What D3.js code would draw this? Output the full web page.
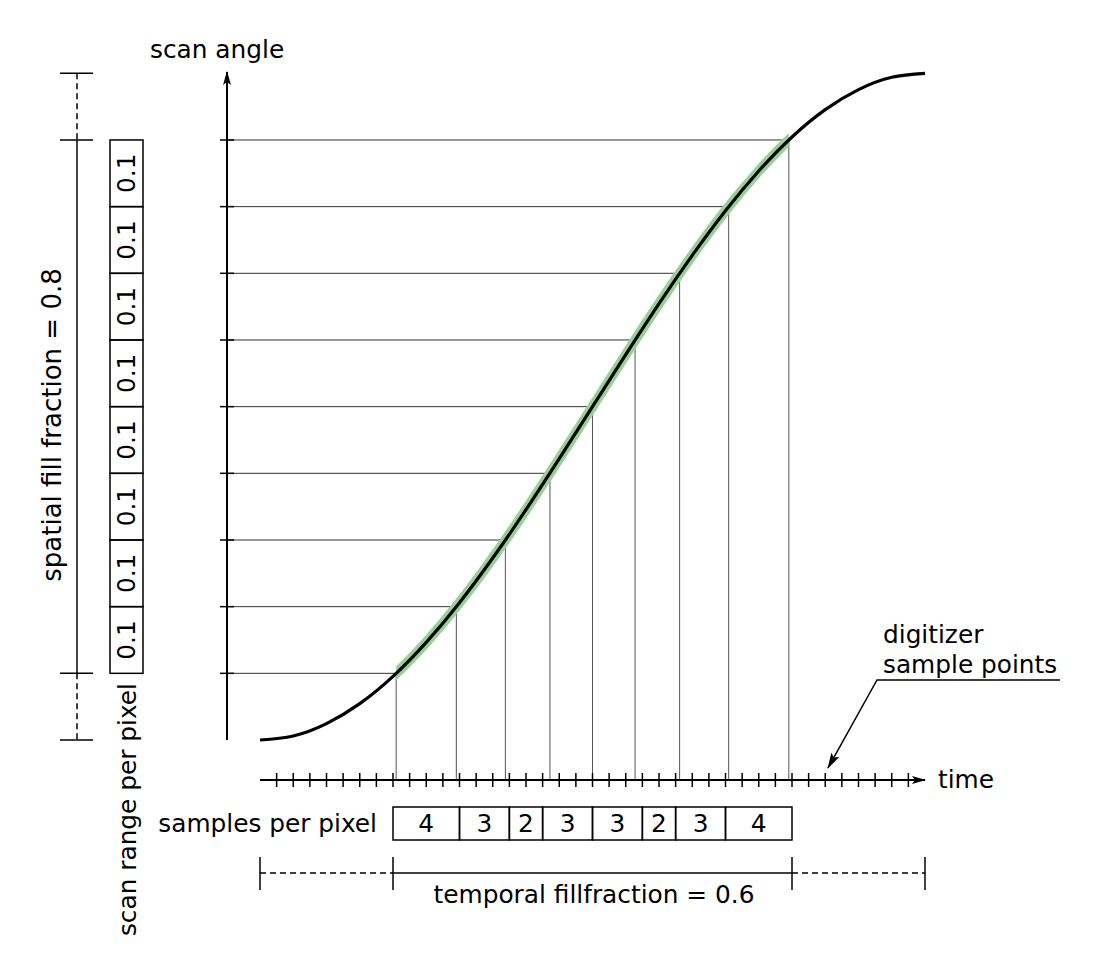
<!DOCTYPE html>
<html>
<head>
<meta charset="utf-8">
<script src="https://cdn.jsdelivr.net/npm/d3@7"></script>
<style>
  html, body { margin: 0; padding: 0; background: #fff; }
  text { font-family: "DejaVu Sans", Verdana, sans-serif; fill: #000; }
</style>
</head>
<body>
<svg id="chart" width="1096" height="966"></svg>
<script>
// ---- data ----
// scan curve: time in digitizer samples (0..40) vs normalised scan angle (-1..1)
const curveTimes  = [0, 2, 4, 6, 8, 10, 12, 14, 16, 18, 20, 22, 24, 26, 28, 30, 32, 34, 36, 38, 40];
const curveAngles = [-1, -0.988, -0.951, -0.891, -0.809, -0.707, -0.588, -0.454, -0.309, -0.156, 0,
                     0.156, 0.309, 0.454, 0.588, 0.707, 0.809, 0.891, 0.951, 0.988, 1];
// pixel boundaries on the scan-angle axis and the times at which the curve crosses them
const pixelLevels = [0.8, 0.6, 0.4, 0.2, 0, -0.2, -0.4, -0.6, -0.8];
const crossTimes  = [31.81, 28.19, 25.24, 22.56, 20, 17.44, 14.76, 11.81, 8.19];
// spatial pixel sizes (fraction of full scan range)
const pixelSizes = ["0.1", "0.1", "0.1", "0.1", "0.1", "0.1", "0.1", "0.1"];
// samples per pixel
const samplesPerPixel = [4, 3, 2, 3, 3, 2, 3, 4];
const sampleCount = 40;          // digitizer samples over one full line
const spatialFill = 0.8;
const temporalFill = 0.6;
const temporalStart = 8, temporalEnd = 32;   // sample indices of the temporal fill window

// ---- layout ----
const svg = d3.select("#chart");
const x = d3.scaleLinear().domain([0, sampleCount]).range([260, 925]);
const y = d3.scaleLinear().domain([-1, 1]).range([740, 73.3]);
const yAxisX = 227;
const timeY = 780;
const fontSize = 24.8;

const defs = svg.append("defs");
defs.append("marker").attr("id", "arrow").attr("viewBox", "0 0 14 10")
  .attr("refX", 13).attr("refY", 5).attr("markerWidth", 14).attr("markerHeight", 10)
  .attr("markerUnits", "userSpaceOnUse").attr("orient", "auto")
  .append("path").attr("d", "M0,1 L14,5 L0,9 L3,5 Z").attr("fill", "#000");
defs.append("marker").attr("id", "arrow2").attr("viewBox", "0 0 16 10")
  .attr("refX", 15).attr("refY", 5).attr("markerWidth", 16).attr("markerHeight", 10)
  .attr("markerUnits", "userSpaceOnUse").attr("orient", "auto")
  .append("path").attr("d", "M0,0.5 L16,5 L0,9.5 L3,5 Z").attr("fill", "#000");
defs.append("clipPath").attr("id", "fillClip").append("rect")
  .attr("x", x(d3.min(crossTimes))).attr("y", 0)
  .attr("width", x(d3.max(crossTimes)) - x(d3.min(crossTimes))).attr("height", 966);

// grid lines from y axis to curve, and from curve down to time axis
pixelLevels.forEach((lv, i) => {
  svg.append("line").attr("x1", yAxisX).attr("x2", x(crossTimes[i]))
    .attr("y1", y(lv)).attr("y2", y(lv)).attr("stroke", "#333").attr("stroke-width", 1);
  svg.append("line").attr("x1", x(crossTimes[i])).attr("x2", x(crossTimes[i]))
    .attr("y1", y(lv)).attr("y2", timeY).attr("stroke", "#555").attr("stroke-width", 1);
  svg.append("line").attr("x1", yAxisX - 7).attr("x2", yAxisX + 7)
    .attr("y1", y(lv)).attr("y2", y(lv)).attr("stroke", "#000").attr("stroke-width", 1.5);
});

// y axis
svg.append("line").attr("x1", yAxisX).attr("x2", yAxisX).attr("y1", 740).attr("y2", 72)
  .attr("stroke", "#000").attr("stroke-width", 2).attr("marker-end", "url(#arrow)");
svg.append("text").attr("x", 150).attr("y", 58).attr("font-size", fontSize).text("scan angle");

// curve
const pts = curveTimes.map((t, i) => [t, curveAngles[i]]);
const line = d3.line().x(d => x(d[0])).y(d => y(d[1])).curve(d3.curveNatural);
svg.append("path").attr("d", line(pts)).attr("fill", "none")
  .attr("stroke", "#98d098").attr("stroke-width", 10).attr("clip-path", "url(#fillClip)");
svg.append("path").attr("d", line(pts)).attr("fill", "none")
  .attr("stroke", "#000").attr("stroke-width", 3.2);

// time axis
svg.append("line").attr("x1", x(0)).attr("x2", x(sampleCount)).attr("y1", timeY).attr("y2", timeY)
  .attr("stroke", "#000").attr("stroke-width", 2).attr("marker-end", "url(#arrow)");
svg.append("g").selectAll("line").data(d3.range(1, sampleCount)).join("line")
  .attr("x1", d => x(d)).attr("x2", d => x(d)).attr("y1", timeY - 7).attr("y2", timeY + 7)
  .attr("stroke", "#000").attr("stroke-width", 1.5);
svg.append("text").attr("x", 938).attr("y", 788).attr("font-size", fontSize).text("time");

// digitizer callout
svg.append("text").attr("x", 883).attr("y", 643).attr("font-size", fontSize).text("digitizer");
svg.append("text").attr("x", 883).attr("y", 673).attr("font-size", fontSize).text("sample points");
svg.append("polyline").attr("points", "1060,680 877,680 828,768").attr("fill", "none")
  .attr("stroke", "#000").attr("stroke-width", 1.5).attr("marker-end", "url(#arrow2)");

// samples per pixel boxes
const starts = [];
samplesPerPixel.reduce((acc, n) => { starts.push(acc); return acc + n; }, temporalStart);
const boxG = svg.append("g");
samplesPerPixel.forEach((n, i) => {
  const x0 = x(starts[i]), x1 = x(starts[i] + n);
  boxG.append("rect").attr("x", x0).attr("y", 807).attr("width", x1 - x0).attr("height", 33)
    .attr("fill", "none").attr("stroke", "#000").attr("stroke-width", 1.5);
  boxG.append("text").attr("x", (x0 + x1) / 2).attr("y", 832).attr("text-anchor", "middle")
    .attr("font-size", fontSize).text(n);
});
svg.append("text").attr("x", 377).attr("y", 832).attr("text-anchor", "end")
  .attr("font-size", fontSize).text("samples per pixel");

// temporal fill fraction bracket
const by = 873;
[0, temporalStart, temporalEnd, sampleCount].forEach(s => {
  svg.append("line").attr("x1", x(s)).attr("x2", x(s)).attr("y1", by - 16).attr("y2", by + 17)
    .attr("stroke", "#000").attr("stroke-width", 1.5);
});
svg.append("line").attr("x1", x(0)).attr("x2", x(temporalStart)).attr("y1", by).attr("y2", by)
  .attr("stroke", "#000").attr("stroke-width", 1.5).attr("stroke-dasharray", "6,4");
svg.append("line").attr("x1", x(temporalStart)).attr("x2", x(temporalEnd)).attr("y1", by).attr("y2", by)
  .attr("stroke", "#000").attr("stroke-width", 1.5);
svg.append("line").attr("x1", x(temporalEnd)).attr("x2", x(sampleCount)).attr("y1", by).attr("y2", by)
  .attr("stroke", "#000").attr("stroke-width", 1.5).attr("stroke-dasharray", "6,4");
svg.append("text").attr("x", 594).attr("y", 903)
  .attr("text-anchor", "middle").attr("font-size", fontSize)
  .text("temporal fillfraction = " + temporalFill);

// spatial fill fraction bracket (left)
const bx = 77;
[1, spatialFill, -spatialFill, -1].forEach(v => {
  svg.append("line").attr("x1", bx - 17).attr("x2", bx + 16).attr("y1", y(v)).attr("y2", y(v))
    .attr("stroke", "#000").attr("stroke-width", 1.5);
});
svg.append("line").attr("x1", bx).attr("x2", bx).attr("y1", y(1)).attr("y2", y(spatialFill))
  .attr("stroke", "#000").attr("stroke-width", 1.5).attr("stroke-dasharray", "6,4");
svg.append("line").attr("x1", bx).attr("x2", bx).attr("y1", y(spatialFill)).attr("y2", y(-spatialFill))
  .attr("stroke", "#000").attr("stroke-width", 1.5);
svg.append("line").attr("x1", bx).attr("x2", bx).attr("y1", y(-spatialFill)).attr("y2", y(-1))
  .attr("stroke", "#000").attr("stroke-width", 1.5).attr("stroke-dasharray", "6,4");
svg.append("text").attr("transform", `translate(61,425) rotate(-90)`)
  .attr("text-anchor", "middle").attr("font-size", 26)
  .text("spatial fill fraction = " + spatialFill);

// scan range per pixel cells
pixelSizes.forEach((s, i) => {
  const y0 = y(pixelLevels[i]), y1 = y(pixelLevels[i + 1]);
  svg.append("rect").attr("x", 110).attr("y", y0).attr("width", 33).attr("height", y1 - y0)
    .attr("fill", "none").attr("stroke", "#000").attr("stroke-width", 1.5);
  svg.append("text").attr("transform", `translate(135,${(y0 + y1) / 2}) rotate(-90)`)
    .attr("text-anchor", "middle").attr("font-size", fontSize).text(s);
});
svg.append("text").attr("transform", `translate(136,683) rotate(-90)`)
  .attr("text-anchor", "end").attr("font-size", fontSize).text("scan range per pixel");
</script>
</body>
</html>
